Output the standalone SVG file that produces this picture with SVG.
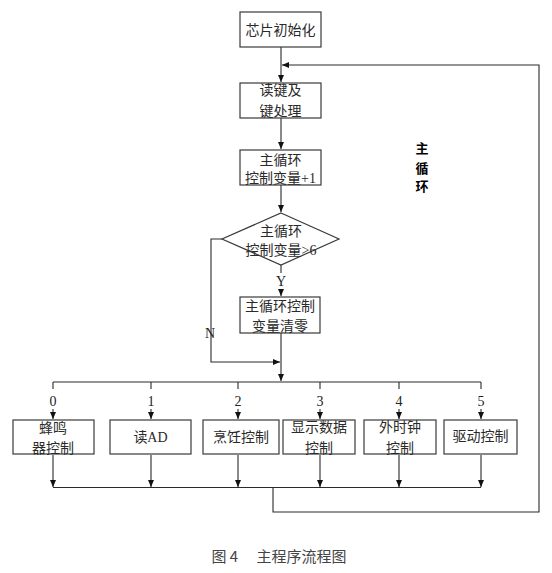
<svg xmlns="http://www.w3.org/2000/svg" width="552" height="573" viewBox="0 0 552 573">
<style>
.box{fill:#fff;stroke:#3a3a3a;stroke-width:1.2}
.t{font-family:"Liberation Serif","Noto Sans CJK SC",serif;font-size:14px;fill:#2a2a2a;text-anchor:middle}
.c{fill:none;stroke:#2a2a2a;stroke-width:1.1}
.lbl{font-family:"Liberation Serif","Noto Sans CJK SC",serif;font-size:14px;fill:#222;text-anchor:middle}
</style>
<defs>
<marker id="a" markerWidth="8" markerHeight="8" refX="7" refY="4" orient="auto" markerUnits="userSpaceOnUse">
<path d="M0,1 L7,4 L0,7 Z" fill="#111"/>
</marker>
</defs>
<rect width="552" height="573" fill="#fff"/>
<g id="connectors">
<path class="c" d="M281,47 V82" marker-end="url(#a)"/>
<path class="c" d="M273,487 V512 H539 V65 H282" marker-end="url(#a)"/>
<path class="c" d="M281,118 V149" marker-end="url(#a)"/>
<path class="c" d="M281,185 V212" marker-end="url(#a)"/>
<path class="c" d="M281,265 V273"/>
<path class="c" d="M281,289 V296" marker-end="url(#a)"/>
<path class="c" d="M281,333 V381" marker-end="url(#a)"/>
<path class="c" d="M222,239 H211 V362 H280" marker-end="url(#a)"/>
<path class="c" d="M53,382 H481"/>
<path class="c" d="M53,382 V389 M151,382 V389 M238,382 V389 M320,382 V389 M399,382 V389 M481,382 V389"/>
<path class="c" d="M53,409 V419" marker-end="url(#a)"/>
<path class="c" d="M151,409 V419" marker-end="url(#a)"/>
<path class="c" d="M238,409 V419" marker-end="url(#a)"/>
<path class="c" d="M320,409 V419" marker-end="url(#a)"/>
<path class="c" d="M399,409 V419" marker-end="url(#a)"/>
<path class="c" d="M481,409 V419" marker-end="url(#a)"/>
<path class="c" d="M53,455 V487" marker-end="url(#a)"/>
<path class="c" d="M151,455 V487" marker-end="url(#a)"/>
<path class="c" d="M238,455 V487" marker-end="url(#a)"/>
<path class="c" d="M320,455 V487" marker-end="url(#a)"/>
<path class="c" d="M399,455 V487" marker-end="url(#a)"/>
<path class="c" d="M481,455 V487" marker-end="url(#a)"/>
<path class="c" d="M53,487.5 H481"/>
<text class="lbl" x="281" y="286">Y</text>
<text class="lbl" x="210" y="338">N</text>
<text class="lbl" x="53" y="406">0</text>
<text class="lbl" x="151" y="406">1</text>
<text class="lbl" x="238" y="406">2</text>
<text class="lbl" x="320" y="406">3</text>
<text class="lbl" x="399" y="406">4</text>
<text class="lbl" x="481" y="406">5</text>
</g>
<g id="n-init"><rect class="box" x="240" y="12" width="81" height="35"/><text class="t" x="280.5" y="35">芯片初始化</text></g>
<g id="n-key"><rect class="box" x="240" y="83" width="81" height="35"/><text class="t" x="280.5" y="95">读键及</text><text class="t" x="280.5" y="116">键处理</text></g>
<g id="n-inc"><rect class="box" x="240" y="150" width="81" height="35"/><text class="t" x="280.5" y="165">主循环</text><text class="t" x="280.5" y="183">控制变量+1</text></g>
<g id="n-cond"><polygon class="box" points="281,213 339,239 281,265 222,239"/><text class="t" x="281" y="236">主循环</text><text class="t" x="281" y="255">控制变量&gt;6</text></g>
<g id="n-clear"><rect class="box" x="240" y="297" width="80" height="36"/><text class="t" x="280" y="311">主循环控制</text><text class="t" x="280" y="331">变量清零</text></g>
<g id="n-0"><rect class="box" x="13" y="420" width="81" height="34"/><text class="t" x="53" y="433">蜂鸣</text><text class="t" x="53" y="453">器控制</text></g>
<g id="n-1"><rect class="box" x="110" y="420" width="81" height="34"/><text class="t" x="150.5" y="442">读AD</text></g>
<g id="n-2"><rect class="box" x="203" y="420" width="76" height="34"/><text class="t" x="241" y="442">烹饪控制</text></g>
<g id="n-3"><rect class="box" x="283" y="420" width="72" height="34"/><text class="t" x="319" y="432">显示数据</text><text class="t" x="319" y="453">控制</text></g>
<g id="n-4"><rect class="box" x="364" y="420" width="72" height="34"/><text class="t" x="400" y="432">外时钟</text><text class="t" x="400" y="453">控制</text></g>
<g id="n-5"><rect class="box" x="444" y="420" width="73" height="34"/><text class="t" x="480.5" y="441">驱动控制</text></g>
<g id="loop-label" font-family="'Noto Sans CJK SC',sans-serif" font-size="13" font-weight="bold" fill="#000" text-anchor="middle">
<text x="422" y="153">主</text><text x="422" y="173">循</text><text x="422" y="191">环</text>
</g>
<text x="279" y="562" font-family="'Noto Sans CJK SC',sans-serif" font-size="15" fill="#444" text-anchor="middle">图 4　 主程序流程图</text>
</svg>
